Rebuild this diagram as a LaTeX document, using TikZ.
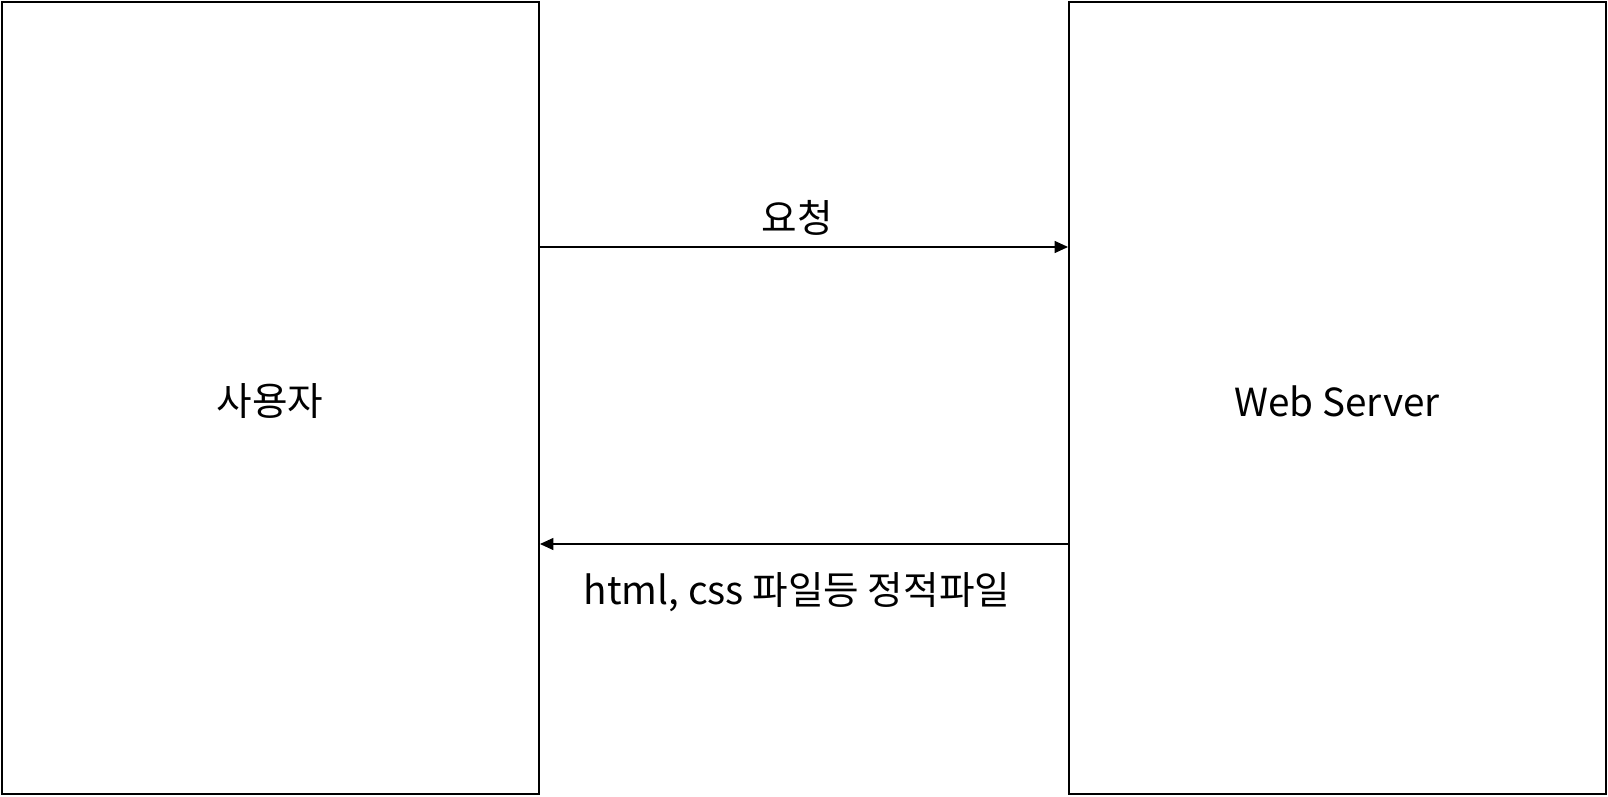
\documentclass[tikz,border=0pt]{standalone}
\usepackage{fontspec}
\setmainfont{Noto Sans CJK KR}
\usetikzlibrary{arrows.meta}
\begin{document}
\begin{tikzpicture}[x=0.75pt,y=-0.75pt,
  box/.style={draw=black,line width=1.5pt},
  conn/.style={line width=0.8pt,-{Triangle[length=10pt,width=9pt]}},
  lbl/.style={font=\fontsize{29}{34}\selectfont,inner sep=0pt}]
\useasboundingbox (0,0) rectangle (1608,796);
\fill[white] (0,0) rectangle (1608,796);
\draw[box] (2,2) rectangle (539,794);
\draw[box] (1069,2) rectangle (1606,794);
\node[lbl] (user) at (270,401) {사용자};
\node[lbl] (server) at (1337,401) {Web Server};
\coordinate (a1) at (539,247);
\coordinate (b1) at (1068,247);
\coordinate (a2) at (1069,544);
\coordinate (b2) at (540,544);
\draw[conn] (a1) -- (b1);
\draw[conn] (a2) -- (b2);
\node[lbl] (req) at (797,218) {요청};
\node[lbl] (resp) at (797,592) {html, css 파일등 정적파일};
\end{tikzpicture}
\end{document}
